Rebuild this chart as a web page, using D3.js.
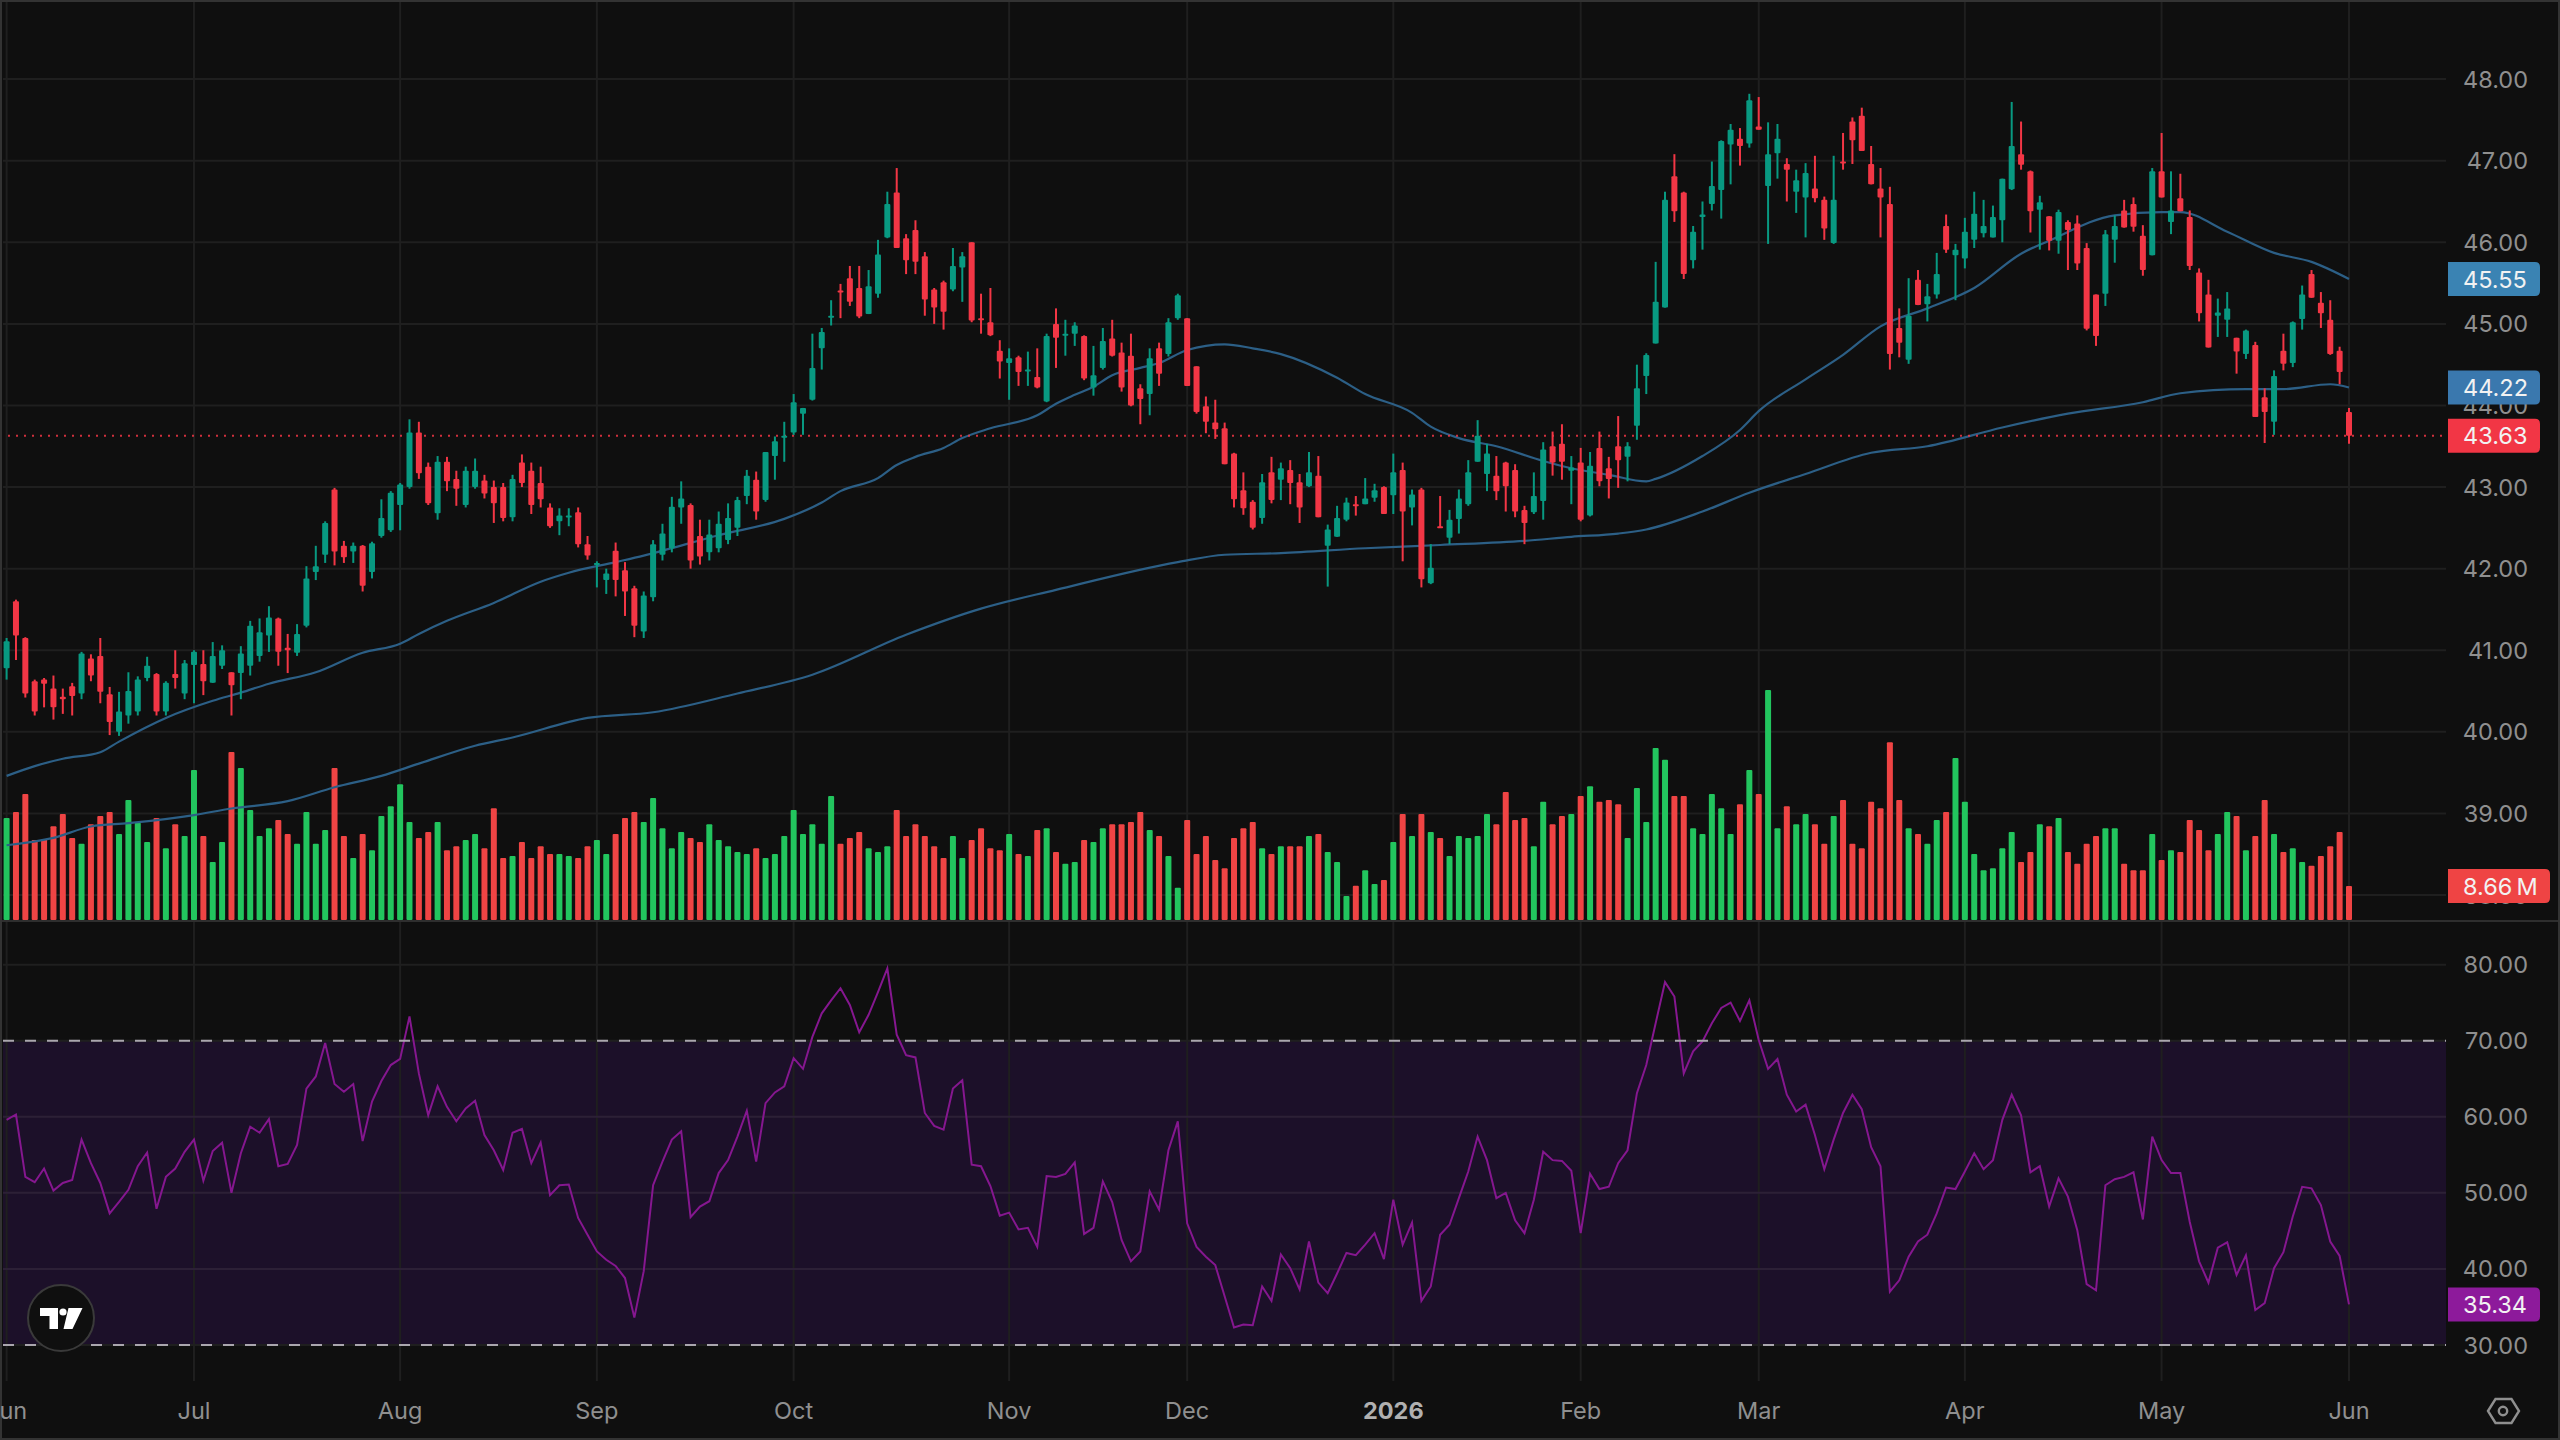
<!DOCTYPE html>
<html><head><meta charset="utf-8">
<style>html,body{margin:0;background:#0f0f0f}svg{display:block}text{font-family:Inter,"Noto Sans",sans-serif}</style>
<script src="https://cdn.jsdelivr.net/npm/d3@7"></script></head><body><div id="chart"></div>
<script>
const monthLabels=["Jun","Jul","Aug","Sep","Oct","Nov","Dec","2026","Feb","Mar","Apr","May","Jun"];
const monthBars=[0,20,42,63,84,107,126,148,168,187,209,230,250];
const priceTicks=[38,39,40,41,42,43,44,45,46,47,48];
const rsiTicks=[30,40,50,60,70,80];
// G = up session, R = down session, ten sessions per chunk
const sides=["GRRRRRRRGR","RRGGGGRGRG","GRGGRGGGGR","RGGGGRRGRG","GGGGRRGRRG","GRRRGRRRRG","GRRGGRRRGG","GGGRRGGGGG","RGGGGGGGGR","RRGGGRRRRR",
"RGGRRRRGRG","RGRGGRGGRR","RRGRGGRRRR","RRRRGRGRRG","RGGGRGGRGR","GRGRGGGGGR","RRRGGRRGRG","RRRGGGGGRR","GGGGGRGRGG","RGGRRGRRRR",
"RRRGRGGRGG","GGGGGRRGRG","RRRRGGRRRG","RGRRRRGGRG","RRGRGGRRRR","R"].join("");
const bodyTops=[41.11,41.60,41.15,40.62,40.64,40.53,40.43,40.56,40.96,40.90,40.93,40.46,40.25,40.50,40.64,40.81,40.71,40.60,40.71,40.84,40.98,40.83,40.93,41.00,40.73,40.96,41.30,41.22,41.40,41.39,41.03,41.20,41.88,42.03,42.56,42.97,42.28,42.28,42.28,42.31,42.62,42.93,43.03,43.67,43.67,43.25,43.31,43.31,43.10,43.20,43.20,43.08,43.00,43.00,43.10,43.30,43.20,43.05,42.75,42.65,42.65,42.69,42.30,42.07,41.94,42.22,41.98,41.76,41.67,42.30,42.43,42.76,42.86,42.78,42.40,42.42,42.55,42.62,42.84,43.14,43.09,43.43,43.56,43.63,
44.04,43.97,44.46,44.90,45.10,45.41,45.56,45.44,45.46,45.85,46.47,46.61,46.05,46.15,45.83,45.42,45.51,45.71,45.83,46.00,45.07,45.02,44.67,44.58,44.59,44.44,44.35,44.85,45.00,44.88,44.98,44.85,44.37,44.79,44.82,44.65,44.61,44.21,44.58,44.70,45.02,45.35,45.07,44.48,43.99,43.79,43.72,43.41,42.96,42.82,43.06,43.18,43.23,43.21,43.06,43.18,43.14,42.48,42.62,42.81,42.79,42.86,42.96,43.00,43.18,43.21,42.91,42.97,42.01,42.52,42.60,42.86,43.18,43.63,43.41,43.14,43.30,43.21,42.72,42.89,43.46,43.50,43.53,43.24,43.30,43.26,43.48,43.23,43.50,43.50,44.21,
44.62,45.27,46.52,46.81,46.61,46.13,46.34,46.69,47.24,47.38,47.27,47.74,47.42,47.08,47.27,46.96,46.76,46.85,46.66,46.52,46.52,46.99,47.48,47.55,46.96,46.66,46.47,44.95,45.10,45.54,45.34,45.61,46.20,45.91,46.13,46.35,46.20,46.31,46.78,47.18,47.08,46.87,46.49,46.32,46.37,46.25,46.23,45.93,45.36,46.10,46.20,46.39,46.47,46.08,46.87,46.87,46.39,46.54,46.31,45.63,45.36,45.14,45.19,44.83,44.92,44.74,44.10,44.36,44.67,45.02,45.36,45.61,45.26,45.05,44.67,43.92];
const bodyBottoms=[40.78,41.18,40.47,40.25,40.59,40.30,40.40,40.44,40.47,40.69,40.49,40.12,40.00,40.20,40.25,40.66,40.25,40.25,40.66,40.47,40.82,40.62,40.60,40.81,40.57,40.72,40.81,40.93,41.18,40.98,41.00,40.97,41.30,41.96,42.17,42.21,42.14,42.21,41.79,41.96,42.40,42.47,42.78,43.00,43.17,42.80,42.68,43.07,42.98,42.78,43.00,42.92,42.80,42.62,42.63,43.05,42.78,42.85,42.52,42.58,42.63,42.30,42.16,42.05,41.86,41.86,41.72,41.30,41.23,41.65,42.17,42.25,42.75,42.10,42.15,42.20,42.25,42.35,42.50,42.89,42.70,42.84,43.38,43.61,
43.67,43.90,44.07,44.70,45.08,45.40,45.27,45.09,45.12,45.37,46.06,45.93,45.78,45.76,45.30,45.20,45.15,45.42,45.69,45.04,45.05,44.86,44.54,44.52,44.41,44.42,44.22,44.05,44.83,44.86,44.88,44.33,44.22,44.46,44.61,44.22,44.00,44.08,44.14,44.39,44.63,45.07,44.24,43.92,43.80,43.71,43.28,42.85,42.74,42.50,42.62,42.84,43.09,43.05,42.75,43.01,42.63,42.28,42.39,42.60,42.78,42.79,42.87,42.67,42.90,42.70,42.75,41.87,41.82,42.51,42.38,42.61,42.79,43.31,43.16,42.95,43.01,42.70,42.56,42.69,42.83,43.30,43.31,43.20,42.60,42.65,43.07,43.10,43.33,43.37,43.75,
44.36,44.76,45.20,46.38,45.61,45.78,46.31,46.47,46.64,47.20,47.18,47.21,47.38,46.69,47.09,46.89,46.62,46.55,46.54,46.17,45.99,46.97,47.25,47.12,46.71,46.55,44.63,44.77,44.56,45.23,45.24,45.36,45.91,45.84,45.80,46.03,46.11,46.06,46.27,46.65,46.95,46.38,46.40,46.02,46.02,46.15,45.74,44.94,44.85,45.37,46.03,46.18,46.19,45.66,45.84,46.55,46.25,46.38,45.71,45.13,44.71,45.10,45.05,44.66,44.63,43.86,43.92,43.80,44.51,44.52,45.06,45.32,45.13,44.63,44.41,43.63];
const highs=[41.15,41.62,41.16,40.64,40.66,40.69,40.53,40.60,40.98,40.95,41.15,40.55,40.49,40.73,40.68,40.92,40.72,40.62,41.00,40.88,41.00,41.00,41.10,41.06,40.73,41.05,41.36,41.39,41.54,41.40,41.20,41.32,42.03,42.28,42.58,42.99,42.34,42.32,42.29,42.33,42.85,42.95,43.05,43.83,43.80,43.30,43.38,43.37,43.20,43.25,43.35,43.15,43.08,43.05,43.15,43.40,43.30,43.25,42.80,42.74,42.74,42.75,42.40,42.09,42.00,42.32,42.08,41.79,41.72,42.35,42.55,42.88,43.07,42.80,42.60,42.60,42.70,42.80,42.88,43.21,43.19,43.43,43.62,43.80,
44.14,43.97,44.88,44.95,45.29,45.49,45.71,45.71,45.66,46.03,46.62,46.91,46.10,46.27,45.88,45.44,45.53,45.93,45.88,46.00,45.37,45.44,44.80,44.70,44.61,44.66,44.70,44.88,45.19,45.05,45.02,44.86,44.73,44.95,45.05,44.77,44.88,44.26,44.70,44.77,45.07,45.37,45.07,44.48,44.11,44.07,43.79,43.42,43.18,42.84,43.16,43.37,43.30,43.33,43.16,43.43,43.38,42.54,42.77,42.87,42.89,43.11,43.04,43.01,43.41,43.30,42.97,42.99,42.30,42.89,42.72,42.97,43.33,43.82,43.53,43.38,43.31,43.28,42.77,43.18,43.55,43.68,43.77,43.38,43.48,43.43,43.68,43.37,43.87,43.55,44.50,
44.64,45.76,46.62,47.08,46.62,46.20,46.50,46.99,47.25,47.45,47.40,47.82,47.78,47.47,47.45,47.03,46.89,46.97,47.06,46.56,47.06,47.34,47.53,47.65,47.18,46.91,46.68,45.19,45.56,45.66,45.49,45.87,46.34,45.98,46.30,46.62,46.52,46.45,46.78,47.72,47.48,46.88,46.57,46.32,46.40,46.27,46.33,45.99,45.36,46.15,46.33,46.52,46.55,46.21,46.91,47.34,46.87,46.84,46.39,45.68,45.54,45.31,45.39,44.83,44.93,44.78,44.21,44.43,44.88,45.03,45.47,45.66,45.39,45.29,44.72,43.97];
const lows=[40.64,40.88,40.42,40.20,40.30,40.15,40.22,40.20,40.40,40.62,40.35,39.96,39.95,40.10,40.20,40.62,40.20,40.20,40.53,40.40,40.35,40.45,40.60,40.77,40.20,40.40,40.69,40.86,40.98,40.81,40.72,40.93,41.28,41.86,42.07,42.04,42.07,42.07,41.72,41.88,42.38,42.45,42.47,42.98,43.10,42.78,42.60,42.95,42.77,42.75,42.98,42.86,42.56,42.58,42.58,43.00,42.67,42.75,42.50,42.41,42.52,42.26,42.11,41.77,41.69,41.66,41.42,41.16,41.15,41.60,42.10,42.20,42.55,42.00,42.05,42.10,42.20,42.30,42.40,42.79,42.60,42.82,43.09,43.31,
43.64,43.64,44.06,44.44,44.98,45.07,45.22,45.07,45.12,45.32,46.05,45.93,45.61,45.61,45.10,45.00,44.93,45.40,45.27,45.02,44.88,44.85,44.33,44.07,44.24,44.24,44.21,44.04,44.46,44.61,44.73,44.31,44.12,44.44,44.60,44.17,43.99,43.77,43.88,44.24,44.60,45.05,44.24,43.90,43.66,43.59,43.28,42.75,42.66,42.48,42.55,42.80,42.84,42.79,42.56,43.00,42.63,41.78,42.39,42.58,42.65,42.79,42.82,42.67,42.67,42.09,42.53,41.77,41.81,42.50,42.30,42.43,42.77,43.31,42.95,42.84,42.70,42.63,42.30,42.67,42.60,43.14,43.09,42.79,42.58,42.64,43.01,42.86,42.99,43.07,43.58,
44.14,44.76,45.20,46.25,45.55,45.68,45.91,46.39,46.29,46.71,46.94,47.16,47.38,45.98,46.78,46.50,46.36,46.06,46.49,46.03,45.98,46.89,46.96,47.12,46.71,46.06,44.44,44.59,44.51,45.23,45.03,45.31,45.87,45.29,45.68,45.93,46.06,46.06,46.00,46.64,46.89,46.12,45.91,45.90,45.86,45.66,45.66,44.92,44.73,45.22,45.75,46.18,46.13,45.59,45.84,46.55,46.10,46.38,45.66,45.03,44.71,44.84,44.84,44.39,44.57,43.86,43.54,43.64,44.43,44.47,44.93,45.32,44.95,44.62,44.26,43.53];
const volumeM=[26.0,27.5,32.1,20.4,20.5,23.9,27.0,20.9,19.4,24.4,26.5,27.5,21.9,30.6,24.8,19.9,26.0,18.3,24.4,21.4,38.2,21.4,14.8,19.9,42.8,38.7,28.0,21.4,23.4,25.5,21.9,19.4,27.5,19.4,22.9,38.7,21.4,15.8,21.9,17.8,26.5,29.0,34.6,25.0,20.9,22.4,25.0,17.8,18.8,20.4,21.9,18.3,28.5,15.8,16.3,19.9,15.8,18.8,16.8,16.8,16.3,15.8,18.8,20.4,16.8,21.9,26.0,27.5,25.0,31.1,23.4,18.3,22.4,20.9,19.9,24.4,20.4,18.8,17.3,16.8,18.3,15.8,16.8,21.4,28.0,21.9,24.4,19.4,31.6,19.4,20.9,22.4,
18.3,17.3,18.8,28.0,21.4,24.4,21.4,18.8,15.8,21.4,15.8,20.4,23.4,18.3,17.8,21.9,16.8,16.3,22.9,23.4,17.3,14.3,14.8,20.4,19.9,23.4,24.4,24.4,25.0,27.5,22.9,21.4,16.3,8.2,25.5,16.8,21.4,15.3,13.2,20.9,23.4,25.0,18.3,16.8,18.8,18.8,18.8,21.4,21.9,17.3,14.8,6.1,8.7,12.7,9.2,10.2,19.9,27.0,21.4,27.0,22.4,20.9,16.3,21.4,20.9,21.4,27.0,24.4,32.6,25.5,26.0,18.8,30.1,24.4,26.5,27.0,31.6,34.1,30.1,30.6,29.5,20.9,33.6,25.0,43.8,40.8,31.6,31.6,23.4,21.9,32.1,
28.5,21.9,29.5,38.2,32.1,58.6,23.4,29.0,24.4,27.0,24.4,19.4,26.5,30.6,19.4,18.3,30.1,28.5,45.3,30.6,23.4,21.9,19.4,25.5,27.5,41.3,30.1,16.8,12.7,13.2,18.3,22.4,14.8,17.3,24.4,23.9,26.0,17.3,14.3,19.4,21.4,23.4,23.4,14.3,12.7,12.7,21.9,15.3,17.8,17.3,25.5,22.9,17.8,21.9,27.5,26.5,17.8,21.4,30.6,21.9,17.3,18.3,14.8,13.8,16.3,18.8,22.4,8.66];
const rsiValues=[59.6,60.3,52.1,51.4,53.2,50.3,51.3,51.7,57.0,53.9,51.3,47.3,48.8,50.4,53.5,55.3,47.9,52.1,53.2,55.4,57.0,51.6,55.5,56.6,50.0,55.2,58.7,57.9,59.7,53.5,53.8,56.3,63.7,65.3,69.7,64.3,63.3,64.3,56.8,62.0,64.7,66.8,67.6,73.2,65.7,60.2,64.0,61.3,59.4,61.1,62.1,57.6,55.6,53.0,57.9,58.4,53.9,56.6,49.7,51.0,51.1,46.7,44.5,42.3,41.2,40.4,38.8,33.6,39.7,51.0,54.1,57.0,58.1,46.8,48.2,48.9,52.6,54.3,57.4,60.8,54.1,61.8,63.2,64.0,67.7,66.3,70.5,73.6,75.3,76.9,74.7,71.1,
73.4,76.4,79.5,70.8,68.1,67.8,60.5,58.8,58.3,63.7,64.8,53.7,53.5,50.9,47.0,47.4,45.2,45.4,42.9,52.2,52.1,52.5,54.0,44.6,45.4,51.5,48.8,43.8,41.0,42.3,50.2,47.8,55.6,59.4,46.0,42.9,41.6,40.5,36.4,32.3,32.7,32.6,37.7,35.8,41.9,40.1,37.3,43.6,38.2,36.8,39.4,42.1,41.8,43.2,44.7,41.3,49.1,43.2,46.1,35.8,37.7,44.5,45.8,49.3,52.8,57.4,54.3,49.3,50.0,46.4,44.7,49.1,55.4,54.3,54.2,52.9,44.7,52.5,50.5,50.8,53.9,55.6,63.1,66.8,72.3,77.7,75.8,65.7,68.6,69.9,72.3,
74.3,75.0,72.6,75.3,70.1,66.3,67.6,62.9,60.7,61.6,57.6,53.1,57.0,60.5,62.9,61.0,56.0,53.5,37.0,38.5,41.6,43.6,44.5,47.3,50.7,50.5,52.8,55.2,53.1,54.3,59.6,62.9,60.2,52.7,53.5,48.2,51.9,49.5,45.1,38.0,37.2,51.0,51.8,52.1,52.7,46.5,57.4,54.3,52.6,52.6,46.2,41.0,38.2,42.8,43.5,39.2,41.8,34.6,35.5,40.1,42.2,46.9,50.8,50.6,48.4,43.6,41.7,35.34];
const ma50Bars=[0,3,6,10,12,17,22,25,28,33,38,42,44,47,52,57,60,65,68,76,83,87,89,93,95,97,100,102,105,110,112,114,116,118,121,123,126,130,133,136,142,145,150,152,155,159,164,167,171,175,176,181,185,187,192,196,200,205,210,215,218,225,230,232,237,242,246,250];
const ma50Values=[39.46,39.58,39.67,39.75,39.88,40.17,40.38,40.48,40.59,40.73,40.97,41.08,41.20,41.36,41.58,41.84,41.95,42.08,42.16,42.41,42.61,42.81,42.95,43.11,43.27,43.37,43.48,43.60,43.72,43.88,44.02,44.13,44.23,44.37,44.46,44.52,44.68,44.75,44.70,44.63,44.34,44.14,43.91,43.74,43.60,43.50,43.32,43.23,43.15,43.07,43.10,43.38,43.70,43.93,44.32,44.62,44.97,45.19,45.44,45.86,46.02,46.33,46.37,46.37,46.13,45.87,45.76,45.55];
const ma200Bars=[0,5,9,13,20,24,30,35,40,44,50,54,62,69,78,86,96,104,112,125,130,136,145,153,162,167,172,175,181,186,192,199,205,213,220,228,232,239,243,248,250];
const ma200Values=[38.61,38.70,38.84,38.88,38.98,39.06,39.15,39.32,39.46,39.61,39.83,39.93,40.17,40.24,40.47,40.70,41.19,41.51,41.74,42.08,42.17,42.19,42.25,42.29,42.34,42.39,42.43,42.48,42.70,42.93,43.16,43.42,43.50,43.73,43.90,44.04,44.15,44.20,44.20,44.26,44.22];
const lastPrice=43.63,lastMa50=45.55,lastMa200=44.22,lastRsi=35.34;

const W=2560,H=1440,paneRight=2446;
const svg=d3.select("#chart").append("svg").attr("width",W).attr("height",H);
svg.append("rect").attr("width",W).attr("height",H).attr("fill","#0f0f0f");
const x=d3.scaleLinear().domain([0,250]).range([6.6,2349]);
const yPrice=d3.scaleLinear().domain([47,38]).range([160.7,895]);
const yVol=d3.scaleLinear().domain([0,58.6]).range([920,690]);
const yRsi=d3.scaleLinear().domain([70,30]).range([1040.7,1345]);
const grid="#1f1f1f";
const isUp=i=>sides[i]==="G";

// overbought/oversold band
svg.append("rect").attr("x",3).attr("width",paneRight-3).attr("y",yRsi(70)).attr("height",yRsi(30)-yRsi(70)).attr("fill","#1c1029");

// grid
svg.append("g").selectAll("line").data(monthBars).join("line")
  .attr("x1",d=>x(d)).attr("x2",d=>x(d)).attr("y1",0).attr("y2",1381).attr("stroke",grid).attr("stroke-width",2);
svg.append("g").selectAll("line").data(priceTicks).join("line")
  .attr("x1",3).attr("x2",paneRight).attr("y1",d=>yPrice(d)).attr("y2",d=>yPrice(d)).attr("stroke",grid).attr("stroke-width",2);
svg.append("g").selectAll("line").data(rsiTicks).join("line")
  .attr("x1",3).attr("x2",paneRight).attr("y1",d=>yRsi(d)).attr("y2",d=>yRsi(d)).attr("stroke",d=>d<70&&d>30?"#2c2036":grid).attr("stroke-width",2);

// volume
const bars=d3.range(251);
svg.append("g").selectAll("rect").data(bars).join("rect")
  .attr("x",i=>x(i)-3).attr("width",6).attr("y",i=>yVol(volumeM[i])).attr("height",i=>920-yVol(volumeM[i])).attr("rx",1)
  .attr("fill",i=>isUp(i)?"#22c55e":"#ef4444");

// moving averages
const maLine=b=>d3.line().x((d,i)=>x(b[i])).y(d=>yPrice(d)).curve(d3.curveMonotoneX);
svg.append("path").attr("d",maLine(ma50Bars)(ma50Values)).attr("fill","none").attr("stroke","#2c5f86").attr("stroke-width",2.2);
svg.append("path").attr("d",maLine(ma200Bars)(ma200Values)).attr("fill","none").attr("stroke","#2c5f86").attr("stroke-width",2.2);

// last-price marker
svg.append("line").attr("x1",0).attr("x2",paneRight).attr("y1",yPrice(lastPrice)).attr("y2",yPrice(lastPrice))
  .attr("stroke","#f23645").attr("stroke-opacity",.85).attr("stroke-width",2).attr("stroke-dasharray","2 6");

// candles
const candleColor=i=>isUp(i)?"#089981":"#f23645";
svg.append("g").selectAll("line").data(bars).join("line")
  .attr("x1",i=>x(i)).attr("x2",i=>x(i)).attr("y1",i=>yPrice(highs[i])).attr("y2",i=>yPrice(lows[i]))
  .attr("stroke",candleColor).attr("stroke-width",2);
svg.append("g").selectAll("rect").data(bars).join("rect")
  .attr("x",i=>x(i)-3).attr("width",6).attr("rx",1)
  .attr("y",i=>yPrice(bodyTops[i]))
  .attr("height",i=>Math.max(2,yPrice(bodyBottoms[i])-yPrice(bodyTops[i])))
  .attr("fill",candleColor);

// RSI
svg.append("path").attr("d",d3.line().x((d,i)=>x(i)).y(d=>yRsi(d))(rsiValues)).attr("fill","none").attr("stroke","#85178f").attr("stroke-width",2);
[70,30].forEach(v=>svg.append("line").attr("x1",3).attr("x2",paneRight).attr("y1",yRsi(v)).attr("y2",yRsi(v))
  .attr("stroke","#aaa6ae").attr("stroke-width",2).attr("stroke-dasharray","11 11"));

// frame and pane divider
svg.append("line").attr("x1",0).attr("x2",W).attr("y1",921).attr("y2",921).attr("stroke","#2e2e2e").attr("stroke-width",2);
svg.append("rect").attr("x",1).attr("y",1).attr("width",W-2).attr("height",H-2).attr("fill","none").attr("stroke","#333").attr("stroke-width",2);

// axis text
const axisColor="#8f8f8f";
svg.append("g").selectAll("text").data(priceTicks).join("text").attr("x",2528).attr("y",d=>yPrice(d)+8.5)
  .attr("text-anchor","end").attr("font-size",23.5).attr("fill",axisColor).text(d=>d.toFixed(2));
svg.append("g").selectAll("text").data(rsiTicks).join("text").attr("x",2528).attr("y",d=>yRsi(d)+8.5)
  .attr("text-anchor","end").attr("font-size",23.5).attr("fill",axisColor).text(d=>d.toFixed(2));
svg.append("g").selectAll("text").data(monthLabels).join("text").attr("x",(d,i)=>x(monthBars[i])).attr("y",1419)
  .attr("text-anchor","middle").attr("font-size",23.5).attr("font-weight",d=>d==="2026"?700:400).attr("fill",d=>d==="2026"?"#b0b0b0":axisColor).text(d=>d);

// value tags on the scale
const tag=(cy,w,fill,txt)=>{
  svg.append("path").attr("d",`M2448 ${cy-17}H${2448+w-5}q5 0 5 5V${cy+12}q0 5 -5 5H2448Z`).attr("fill",fill);
  svg.append("text").attr("x",2463).attr("y",cy+8.5).attr("font-size",23.5).attr("fill","#f2f2f2").text(txt);
};
tag(yPrice(lastMa50),92,"#3a83b3",lastMa50.toFixed(2));
tag(yPrice(lastMa200),92,"#3a78ae",lastMa200.toFixed(2));
tag(yPrice(lastPrice),92,"#f23645",lastPrice.toFixed(2));
tag(yVol(volumeM[250]),102,"#ef4444",volumeM[250].toFixed(2)+"\u2009M");
tag(yRsi(lastRsi),92,"#8d1a9b",lastRsi.toFixed(2));

// settings glyph on the scale corner
svg.append("path").attr("d","M2488 1411l7.500 -12h16l7.500 12l-7.500 12h-16Z").attr("fill","none").attr("stroke",axisColor).attr("stroke-width",2.4);
svg.append("circle").attr("cx",2503).attr("cy",1411).attr("r",4.2).attr("fill","none").attr("stroke",axisColor).attr("stroke-width",2.4);

// brand badge
svg.append("circle").attr("cx",61).attr("cy",1318).attr("r",33).attr("fill","#0f0f0f").attr("stroke","#3a3a3a").attr("stroke-width",2);
svg.append("path").attr("d","M40 1308H58V1329H49.500V1316H40ZM68.500 1308H82.500L72.500 1329H63.500Z").attr("fill","#fff");
svg.append("circle").attr("cx",63).attr("cy",1312).attr("r",3.6).attr("fill","#fff");
</script></body></html>
